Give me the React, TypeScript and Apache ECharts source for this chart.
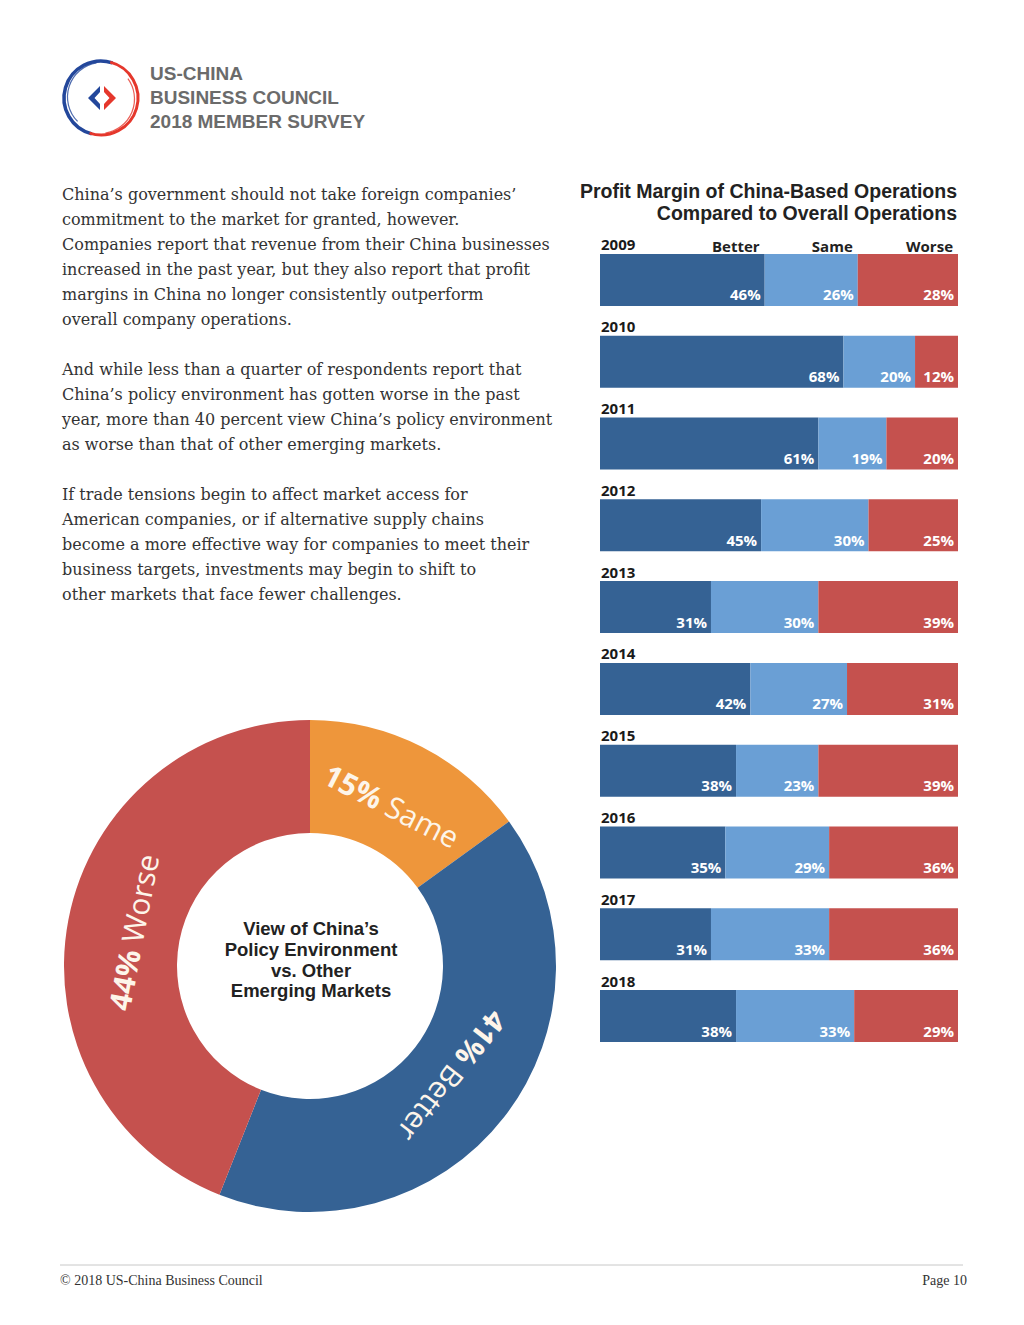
import React, { useEffect, useRef } from "react";
import * as echarts from "echarts";

// ---------- Data ----------
const years = ["2009", "2010", "2011", "2012", "2013", "2014", "2015", "2016", "2017", "2018"];
const better = [46, 68, 61, 45, 31, 42, 38, 35, 31, 38];
const same = [26, 20, 19, 30, 30, 27, 23, 29, 33, 33];
const worse = [28, 12, 20, 25, 39, 31, 39, 36, 36, 29];
const segmentNames = ["Better", "Same", "Worse"];

const policyNames = ["Same", "Better", "Worse"];
const policyValues = [15, 41, 44];

const logoLines = ["US-CHINA", "BUSINESS COUNCIL", "2018 MEMBER SURVEY"];

const bodyParagraphs = [
  [
    "China\u2019s government should not take foreign companies\u2019",
    "commitment to the market for granted, however.",
    "Companies report that revenue from their China businesses",
    "increased in the past year, but they also report that profit",
    "margins in China no longer consistently outperform",
    "overall company operations.",
  ],
  [
    "And while less than a quarter of respondents report that",
    "China\u2019s policy environment has gotten worse in the past",
    "year, more than 40 percent view China\u2019s policy environment",
    "as worse than that of other emerging markets.",
  ],
  [
    "If trade tensions begin to affect market access for",
    "American companies, or if alternative supply chains",
    "become a more effective way for companies to meet their",
    "business targets, investments may begin to shift to",
    "other markets that face fewer challenges.",
  ],
];

const chartTitle = ["Profit Margin of China-Based Operations", "Compared to Overall Operations"];
const centerTitle = ["View of China\u2019s", "Policy Environment", "vs. Other", "Emerging Markets"];

// ---------- Style ----------
const C_DARK = "#356294";
const C_LIGHT = "#6A9FD5";
const C_RED = "#C5514E";
const C_ORANGE = "#EE963B";
const SANS = "'Open Sans', 'Noto Sans', sans-serif";
const TIGHT = "'Liberation Sans', Arial, sans-serif";
const SERIF = "'DejaVu Serif', serif";
const SERIF2 = "'Liberation Serif', serif";

const BAR_LEFT = 600;
const BAR_W = 358;
const PIE_CX = 310;
const PIE_CY = 966;
const PIE_R0 = 133;
const PIE_R1 = 246;

export default function App() {
  const ref = useRef<HTMLDivElement>(null);

  useEffect(() => {
    if (!ref.current) return;
    const chart = echarts.init(ref.current, undefined, { renderer: "svg" });

    const graphics: any[] = [];

    // Logo
    graphics.push(
      { type: "arc", shape: { cx: 101, cy: 98, r: 37, startAngle: Math.PI * 0.58, endAngle: Math.PI * 1.6, clockwise: true }, style: { stroke: "#23479b", lineWidth: 3.5, fill: "none" } },
      { type: "arc", shape: { cx: 101, cy: 98, r: 37, startAngle: -Math.PI * 0.42, endAngle: Math.PI * 0.6, clockwise: true }, style: { stroke: "#e5372c", lineWidth: 3, fill: "none" } },
      { type: "arc", shape: { cx: 102, cy: 97, r: 34.5, startAngle: Math.PI * 0.75, endAngle: Math.PI * 1.45, clockwise: true }, style: { stroke: "#23479b", lineWidth: 1.2, fill: "none", opacity: 0.8 } },
      { type: "arc", shape: { cx: 100, cy: 99, r: 34.5, startAngle: -Math.PI * 0.2, endAngle: Math.PI * 0.45, clockwise: true }, style: { stroke: "#e5372c", lineWidth: 1.2, fill: "none", opacity: 0.8 } },
      { type: "polygon", shape: { points: [[100, 86], [88, 98], [100, 110], [100, 104], [94.5, 98], [100, 92]] }, style: { fill: "#23479b" } },
      { type: "polygon", shape: { points: [[104, 86], [116, 98], [104, 110], [104, 104], [109.5, 98], [104, 92]] }, style: { fill: "#e5372c" } }
    );
    logoLines.forEach((t, i) => {
      graphics.push({
        type: "text",
        x: 150,
        y: 73 + i * 24,
        style: { text: t, fill: "#6b6b6b", font: `bold 19px ${TIGHT}`, textAlign: "left", textVerticalAlign: "middle" },
      });
    });

    // Body text
    let y = 194;
    bodyParagraphs.forEach((para) => {
      para.forEach((line) => {
        graphics.push({
          type: "text",
          x: 62,
          y,
          style: { text: line, fill: "#333333", font: `16px ${SERIF}`, textAlign: "left", textVerticalAlign: "middle" },
        });
        y += 25;
      });
      y += 25;
    });

    // Bar chart title
    chartTitle.forEach((t, i) => {
      graphics.push({
        type: "text",
        x: 957,
        y: 191 + i * 22,
        style: { text: t, fill: "#222222", font: `bold 19.5px ${TIGHT}`, textAlign: "right", textVerticalAlign: "middle" },
      });
    });

    // Column headers aligned to the 2009 segment ends
    const firstRow = [better[0], same[0], worse[0]];
    let cum = 0;
    segmentNames.forEach((n, i) => {
      cum += firstRow[i];
      graphics.push({
        type: "text",
        x: BAR_LEFT + (BAR_W * cum) / 100 - 5,
        y: 246,
        style: { text: n, fill: "#222222", font: `bold 15px ${SANS}`, textAlign: "right", textVerticalAlign: "middle" },
      });
    });

    // Donut labels (computed from the data)
    const total = policyValues.reduce((a, b) => a + b, 0);
    let acc = 0;
    const labelColor = "#fdf5ea";
    policyValues.forEach((v, i) => {
      const mid = ((acc + v / 2) / total) * Math.PI * 2;
      acc += v;
      const r = 180;
      graphics.push({
        type: "text",
        x: PIE_CX + r * Math.sin(mid),
        y: PIE_CY - r * Math.cos(mid),
        rotation: -mid,
        style: {
          text: `{b|${v}% }{n|${policyNames[i]}}`,
          rich: {
            b: { font: `bold 30px ${SANS}`, fill: labelColor },
            n: { font: `30px ${SANS}`, fill: labelColor },
          },
          textAlign: "center",
          textVerticalAlign: "middle",
        },
        z: 10,
      });
    });

    // Donut center title
    centerTitle.forEach((t, i) => {
      graphics.push({
        type: "text",
        x: PIE_CX + 1,
        y: 928.5 + i * 20.8,
        style: {
          text: t,
          fill: "#222222",
          font: `bold 18.5px ${TIGHT}`,
          textAlign: "center",
          textVerticalAlign: "middle",
        },
      });
    });

    // Footer
    graphics.push(
      { type: "line", shape: { x1: 60, y1: 1265, x2: 963, y2: 1265 }, style: { stroke: "#c8c8c8", lineWidth: 1 } },
      { type: "text", x: 60, y: 1280, style: { text: "\u00a9 2018 US-China Business Council", fill: "#333333", font: `14px ${SERIF2}`, textAlign: "left", textVerticalAlign: "middle" } },
      { type: "text", x: 967, y: 1280, style: { text: "Page 10", fill: "#333333", font: `14px ${SERIF2}`, textAlign: "right", textVerticalAlign: "middle" } }
    );

    const barLabel = {
      show: true,
      position: "insideBottomRight",
      distance: 4,
      formatter: "{c}%",
      color: "#ffffff",
      fontFamily: SANS,
      fontWeight: "bold",
      fontSize: 15,
    };

    const barSeries = [better, same, worse].map((vals, i) => ({
      type: "bar",
      name: segmentNames[i],
      stack: "total",
      data: vals,
      barWidth: 52,
      itemStyle: { color: [C_DARK, C_LIGHT, C_RED][i] },
      label: barLabel,
      silent: true,
    }));

    chart.setOption({
      animation: false,
      backgroundColor: "#ffffff",
      grid: { left: BAR_LEFT, right: 1024 - BAR_LEFT - BAR_W, top: 239, bottom: 1325 - 239 - 818, containLabel: false },
      xAxis: { type: "value", min: 0, max: 100, show: false },
      yAxis: {
        type: "category",
        data: years,
        inverse: true,
        axisLine: { show: false },
        axisTick: { show: false },
        splitLine: { show: false },
        axisLabel: {
          inside: true,
          margin: 1,
          align: "left",
          verticalAlign: "bottom",
          padding: [0, 0, 28, 0],
          color: "#1a1a1a",
          fontFamily: SANS,
          fontWeight: "bold",
          fontSize: 15,
        },
      },
      series: [
        ...barSeries,
        {
          type: "pie",
          center: [PIE_CX, PIE_CY],
          radius: [PIE_R0, PIE_R1],
          startAngle: 90,
          clockwise: true,
          silent: true,
          label: { show: false },
          labelLine: { show: false },
          data: policyNames.map((n, i) => ({
            name: n,
            value: policyValues[i],
            itemStyle: { color: [C_ORANGE, C_DARK, C_RED][i] },
          })),
        },
      ],
      graphic: graphics,
    });

    return () => chart.dispose();
  }, []);

  return (
    <div
      ref={ref}
      style={{ position: "absolute", left: 0, top: 0, width: 1024, height: 1325, background: "#fff" }}
    />
  );
}
